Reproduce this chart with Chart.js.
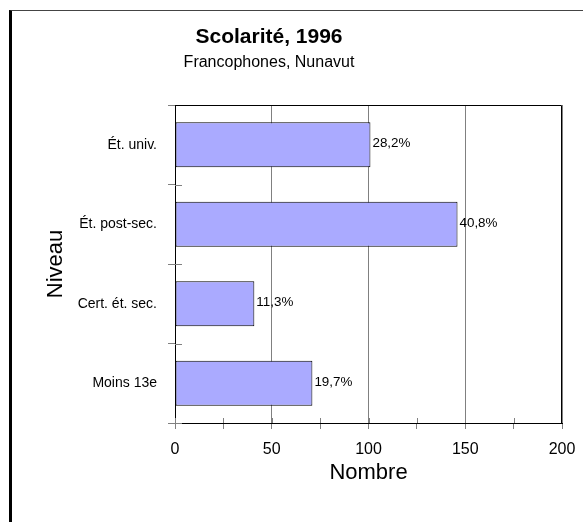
<!DOCTYPE html>
<html>
<head>
<meta charset="utf-8">
<script src="https://cdn.jsdelivr.net/npm/chart.js@4/dist/chart.umd.min.js"></script>
<style>
  html, body { margin: 0; padding: 0; background: #fff; overflow: hidden; }
  body { width: 583px; height: 522px; position: relative; }
  #frame { position: absolute; left: 9px; top: 10px; width: 620px; height: 511px;
           border-left: 3px solid #000; border-top: 1px solid #444; }
  #wrap { position: absolute; left: 0; top: 0; width: 583px; height: 522px; }
</style>
</head>
<body>
<div id="frame"></div>
<div id="wrap"><canvas id="c" width="583" height="522"></canvas></div>
<script>
const titleText = 'Scolarité, 1996';
const subtitleText = 'Francophones, Nunavut';
const categories = ['Ét. univ.', 'Ét. post-sec.', 'Cert. ét. sec.', 'Moins 13e'];
const values = [101, 146, 41, 71];
const percentLabels = ['28,2%', '40,8%', '11,3%', '19,7%'];
const xAxisTitle = 'Nombre';
const yAxisTitle = 'Niveau';
const xMin = 0, xMax = 200, xStep = 25, xLabelStep = 50;

const FONT = '"Liberation Sans", Arial, sans-serif';

const labelPlugin = {
  id: 'pctLabels',
  afterDatasetsDraw(chart) {
    const ctx = chart.ctx;
    const meta = chart.getDatasetMeta(0);
    ctx.save();
    ctx.font = '13.4px ' + FONT;
    ctx.fillStyle = '#000';
    ctx.textAlign = 'left';
    ctx.textBaseline = 'middle';
    meta.data.forEach((el, i) => {
      ctx.fillText(percentLabels[i], el.x + 2, el.y - 1);
    });
    ctx.restore();
  }
};

// The heading block of the original is centred over a narrower frame than the canvas.
const headingPlugin = {
  id: 'headingSpan',
  afterLayout(chart) {
    chart.boxes.forEach((b) => {
      if (b.options && (b.options.text === titleText || b.options.text === subtitleText)) {
        b.left = 0; b.right = 538; b.width = 538;
      }
    });
  }
};

// Frame of the plot, and tick marks that cross the axes as in the original.
const framePlugin = {
  id: 'plotFrame',
  afterDraw(chart) {
    const a = chart.chartArea;
    const ctx = chart.ctx;
    ctx.save();
    ctx.strokeStyle = '#808080';
    ctx.lineWidth = 1;
    ctx.beginPath();
    const xs = chart.scales.x;
    xs.ticks.forEach((t, i) => {
      const px = Math.round(xs.getPixelForTick(i)) + 0.5;
      ctx.moveTo(px, a.bottom);
      ctx.lineTo(px, a.bottom - 5);
    });
    const ys = chart.scales.y;
    const n = ys.ticks.length;
    for (let i = 0; i <= n; i++) {
      const py = Math.round(ys.getPixelForValue(i - 0.5)) + 0.5;
      ctx.moveTo(a.left, py);
      ctx.lineTo(a.left + 7, py);
    }
    ctx.stroke();
    ctx.strokeStyle = '#000';
    ctx.beginPath();
    ctx.moveTo(a.left, a.top + 0.5);
    ctx.lineTo(a.right - 0.5, a.top + 0.5);
    ctx.lineTo(a.right - 0.5, a.bottom);
    ctx.stroke();
    ctx.restore();
  }
};

new Chart(document.getElementById('c'), {
  type: 'bar',
  data: {
    labels: categories,
    datasets: [{
      data: values,
      backgroundColor: '#AAAAFF',
      borderColor: '#000',
      borderWidth: 1,
      borderSkipped: false,
      categoryPercentage: 1,
      barPercentage: 0.566
    }]
  },
  options: {
    indexAxis: 'y',
    responsive: false,
    animation: false,
    devicePixelRatio: 1,
    layout: { padding: { top: 15, right: 21, bottom: 0, left: 0 } },
    plugins: {
      legend: { display: false },
      tooltip: { enabled: false },
      title: {
        display: true, text: titleText, color: '#000',
        font: { family: FONT, size: 21, weight: 'bold' },
        padding: { top: 10, bottom: 0 }
      },
      subtitle: {
        display: true, text: subtitleText, color: '#000',
        font: { family: FONT, size: 16 },
        padding: { top: 3, bottom: 32.6 }
      }
    },
    scales: {
      x: {
        min: xMin, max: xMax,
        afterBuildTicks(scale) {
          const t = [];
          for (let v = xMin; v <= xMax; v += xStep) t.push({ value: v });
          scale.ticks = t;
        },
        ticks: {
          autoSkip: false, maxRotation: 0,
          color: '#000', font: { family: FONT, size: 16 }, padding: 11,
          callback: (v) => (v % xLabelStep === 0 ? String(v) : '')
        },
        grid: {
          color: (c) => (c.tick && c.tick.value % xLabelStep === 0 ? '#808080' : 'rgba(0,0,0,0)'),
          tickColor: '#808080', tickLength: 6, lineWidth: 1
        },
        border: { color: '#000', width: 1 },
        title: {
          display: true, text: xAxisTitle, color: '#000',
          font: { family: FONT, size: 22 }, padding: { top: 0, bottom: 35.8 }
        },
        afterFit(scale) { scale.height = 99; scale.paddingLeft = 0; scale.paddingRight = 0; }
      },
      y: {
        ticks: {
          color: '#000', font: { family: FONT, size: 14 }, padding: 11
        },
        grid: {
          offset: true, drawOnChartArea: false,
          tickColor: '#808080', tickLength: 7
        },
        border: { color: '#000', width: 1 },
        title: {
          display: true, text: yAxisTitle, color: '#000',
          font: { family: FONT, size: 22 }, padding: { top: 42.3, bottom: 0 }
        },
        afterFit(scale) { scale.width = 175; scale.paddingTop = 0; scale.paddingBottom = 0; }
      }
    }
  },
  plugins: [labelPlugin, headingPlugin, framePlugin]
});
</script>
</body>
</html>
